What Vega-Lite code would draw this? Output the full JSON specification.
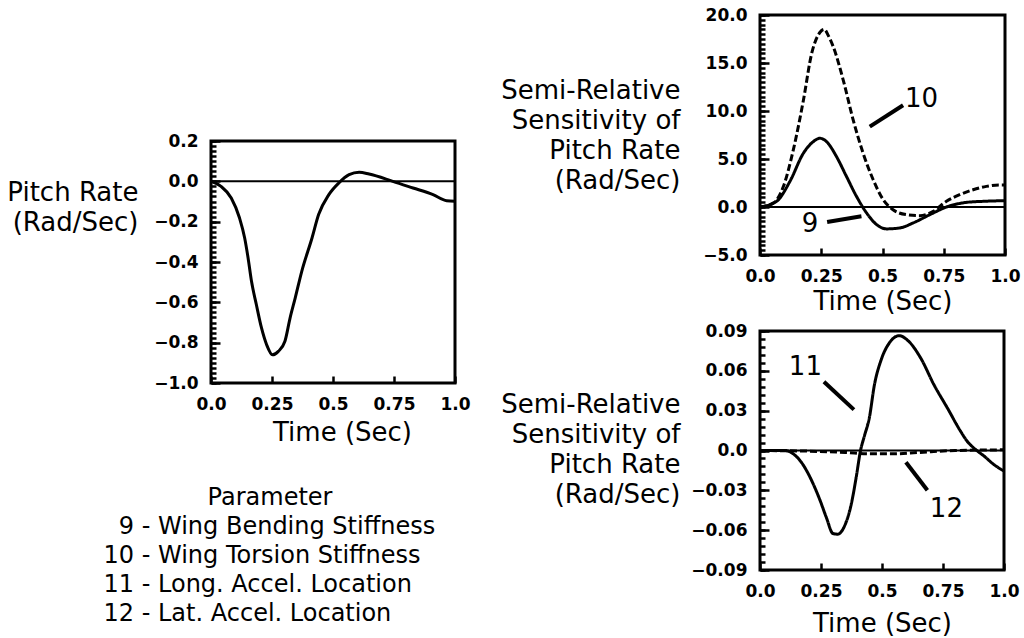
{
  "$schema": "https://vega.github.io/schema/vega-lite/v6.json",
  "background": "white",
  "padding": {"left": 5, "top": 4, "right": 0, "bottom": 0},
  "datasets": {
    "pitch": [
      {"t": 0, "q": 0}, {"t": 0.041, "q": -0.025}, {"t": 0.083, "q": -0.083}, {"t": 0.117, "q": -0.182},
      {"t": 0.138, "q": -0.281}, {"t": 0.152, "q": -0.38}, {"t": 0.166, "q": -0.496}, {"t": 0.186, "q": -0.612},
      {"t": 0.207, "q": -0.727}, {"t": 0.228, "q": -0.81}, {"t": 0.252, "q": -0.86}, {"t": 0.276, "q": -0.843},
      {"t": 0.303, "q": -0.793}, {"t": 0.324, "q": -0.678}, {"t": 0.345, "q": -0.579}, {"t": 0.372, "q": -0.446},
      {"t": 0.414, "q": -0.281}, {"t": 0.441, "q": -0.165}, {"t": 0.483, "q": -0.066}, {"t": 0.524, "q": -0.008},
      {"t": 0.566, "q": 0.033}, {"t": 0.607, "q": 0.045}, {"t": 0.648, "q": 0.036}, {"t": 0.745, "q": 0},
      {"t": 0.828, "q": -0.033}, {"t": 0.91, "q": -0.066}, {"t": 0.966, "q": -0.096}, {"t": 1.0, "q": -0.099}
    ],
    "sensA": [
      {"series": "10", "t": 0, "v": 0}, {"series": "10", "t": 0.054, "v": 0.4}, {"series": "10", "t": 0.095, "v": 2.1},
      {"series": "10", "t": 0.136, "v": 5.95}, {"series": "10", "t": 0.177, "v": 11.1}, {"series": "10", "t": 0.211, "v": 16},
      {"series": "10", "t": 0.245, "v": 18.2}, {"series": "10", "t": 0.262, "v": 18.5}, {"series": "10", "t": 0.28, "v": 17.8},
      {"series": "10", "t": 0.299, "v": 16.7}, {"series": "10", "t": 0.34, "v": 13.2}, {"series": "10", "t": 0.38, "v": 9.1},
      {"series": "10", "t": 0.421, "v": 5.6}, {"series": "10", "t": 0.462, "v": 2.84}, {"series": "10", "t": 0.503, "v": 0.76},
      {"series": "10", "t": 0.543, "v": -0.28}, {"series": "10", "t": 0.598, "v": -0.8}, {"series": "10", "t": 0.652, "v": -0.9},
      {"series": "10", "t": 0.707, "v": -0.45}, {"series": "10", "t": 0.761, "v": 0.59}, {"series": "10", "t": 0.815, "v": 1.28},
      {"series": "10", "t": 0.87, "v": 1.8}, {"series": "10", "t": 0.924, "v": 2.15}, {"series": "10", "t": 0.978, "v": 2.3},
      {"series": "10", "t": 1.0, "v": 2.3},
      {"series": "9", "t": 0, "v": 0}, {"series": "9", "t": 0.068, "v": 0.6}, {"series": "9", "t": 0.122, "v": 2.66},
      {"series": "9", "t": 0.177, "v": 5.6}, {"series": "9", "t": 0.217, "v": 6.8}, {"series": "9", "t": 0.245, "v": 7.16},
      {"series": "9", "t": 0.272, "v": 6.8}, {"series": "9", "t": 0.312, "v": 5.26}, {"series": "9", "t": 0.353, "v": 3.18},
      {"series": "9", "t": 0.394, "v": 1.1}, {"series": "9", "t": 0.435, "v": -0.62}, {"series": "9", "t": 0.476, "v": -1.83},
      {"series": "9", "t": 0.516, "v": -2.28}, {"series": "9", "t": 0.571, "v": -2.18}, {"series": "9", "t": 0.625, "v": -1.66},
      {"series": "9", "t": 0.693, "v": -0.8}, {"series": "9", "t": 0.761, "v": 0}, {"series": "9", "t": 0.842, "v": 0.48},
      {"series": "9", "t": 0.91, "v": 0.59}, {"series": "9", "t": 1.0, "v": 0.66}
    ],
    "sensB": [
      {"series": "11", "t": 0, "v": 0}, {"series": "11", "t": 0.102, "v": 0}, {"series": "11", "t": 0.136, "v": -0.0025},
      {"series": "11", "t": 0.17, "v": -0.009}, {"series": "11", "t": 0.21, "v": -0.022}, {"series": "11", "t": 0.245, "v": -0.037},
      {"series": "11", "t": 0.272, "v": -0.0505}, {"series": "11", "t": 0.299, "v": -0.0625}, {"series": "11", "t": 0.319, "v": -0.063},
      {"series": "11", "t": 0.346, "v": -0.057}, {"series": "11", "t": 0.374, "v": -0.0405}, {"series": "11", "t": 0.394, "v": -0.0205},
      {"series": "11", "t": 0.412, "v": 0}, {"series": "11", "t": 0.428, "v": 0.011}, {"series": "11", "t": 0.448, "v": 0.0245},
      {"series": "11", "t": 0.469, "v": 0.0495}, {"series": "11", "t": 0.496, "v": 0.068}, {"series": "11", "t": 0.53, "v": 0.081},
      {"series": "11", "t": 0.571, "v": 0.0865}, {"series": "11", "t": 0.605, "v": 0.083}, {"series": "11", "t": 0.659, "v": 0.0695},
      {"series": "11", "t": 0.713, "v": 0.0495}, {"series": "11", "t": 0.768, "v": 0.032}, {"series": "11", "t": 0.822, "v": 0.0145},
      {"series": "11", "t": 0.849, "v": 0.007}, {"series": "11", "t": 0.883, "v": 0.0008}, {"series": "11", "t": 0.917, "v": -0.004},
      {"series": "11", "t": 0.958, "v": -0.0105}, {"series": "11", "t": 1.0, "v": -0.0155},
      {"series": "12", "t": 0, "v": 0}, {"series": "12", "t": 0.2, "v": -0.0005}, {"series": "12", "t": 0.35, "v": -0.0015},
      {"series": "12", "t": 0.45, "v": -0.0025}, {"series": "12", "t": 0.55, "v": -0.0025}, {"series": "12", "t": 0.65, "v": -0.0015},
      {"series": "12", "t": 0.8, "v": 0}, {"series": "12", "t": 1.0, "v": 0.0005}
    ],
    "labelsA": [
      {"label": "10", "t": 0.659, "v": 11.25},
      {"label": "9", "t": 0.204, "v": -1.73}
    ],
    "leadersA": [
      {"t": 0.448, "v": 8.37, "t2": 0.584, "v2": 10.6},
      {"t": 0.274, "v": -1.56, "t2": 0.414, "v2": -0.97}
    ],
    "labelsB": [
      {"label": "11", "t": 0.186, "v": 0.063},
      {"label": "12", "t": 0.764, "v": -0.044}
    ],
    "leadersB": [
      {"t": 0.262, "v": 0.0518, "t2": 0.385, "v2": 0.0308},
      {"t": 0.598, "v": -0.0088, "t2": 0.686, "v2": -0.03}
    ],
    "paramHead": [
      {"line": 0, "label": "Parameter"}
    ],
    "paramItems": [
      {"line": 1, "num": "9", "desc": "- Wing Bending Stiffness"},
      {"line": 2, "num": "10", "desc": "- Wing Torsion Stiffness"},
      {"line": 3, "num": "11", "desc": "- Long. Accel. Location"},
      {"line": 4, "num": "12", "desc": "- Lat. Accel. Location"}
    ],
    "zero": [{"z": 0}]
  },
  "bounds": "flush",
  "spacing": 549,
  "hconcat": [
    {
      "bounds": "flush",
      "spacing": 115,
      "vconcat": [
        {"width": 244, "height": 11, "data": {"values": []}, "mark": "text"},
        {
          "width": 244, "height": 242,
          "view": {"stroke": "black", "strokeWidth": 3},
          "resolve": {"axis": {"y": "independent"}},
          "layer": [
            {
              "data": {"name": "pitch"},
              "mark": {"type": "line", "color": "black", "strokeWidth": 3, "interpolate": "monotone"},
              "encoding": {
                "x": {"field": "t", "type": "quantitative", "scale": {"domain": [0, 1], "nice": false},
                      "axis": {"values": [0, 0.25, 0.5, 0.75, 1], "labelExpr": "datum.value == 0 ? '0.0' : datum.value == 1 ? '1.0' : format(datum.value, '.2~f')", "title": "Time (Sec)", "titleX": 131}},
                "y": {"field": "q", "type": "quantitative", "scale": {"domain": [-1, 0.2], "nice": false, "zero": false},
                      "axis": {"orient": "left", "values": [-1, -0.8, -0.6, -0.4, -0.2, 0, 0.2], "format": ".1f", "title": ["Pitch Rate", "(Rad/Sec)"], "titleX": -73, "titleY": 38}}
              }
            },
            {
              "data": {"name": "zero"},
              "mark": {"type": "rule", "color": "black", "strokeWidth": 2},
              "encoding": {
                "y": {"field": "z", "type": "quantitative", "scale": {"domain": [-1, 0.2], "nice": false, "zero": false},
                      "axis": {"orient": "left", "values": [-1, -0.975, -0.95, -0.925, -0.9, -0.875, -0.85, -0.825, -0.8, -0.775, -0.75, -0.725, -0.7, -0.675, -0.65, -0.625, -0.6, -0.575, -0.55, -0.525, -0.5, -0.475, -0.45, -0.425, -0.4, -0.375, -0.35, -0.325, -0.3, -0.275, -0.25, -0.225, -0.2, -0.175, -0.15, -0.125, -0.1, -0.075, -0.05, -0.025, 0, 0.025, 0.05, 0.075, 0.1, 0.125, 0.15, 0.175, 0.2], "labels": false, "tickSize": -5, "title": null}}
              }
            }
          ]
        },
        {
          "width": 244, "height": 116,
          "layer": [
            {
              "data": {"name": "paramHead"},
              "mark": {"type": "text", "align": "center", "baseline": "middle", "fontSize": 24, "font": "DejaVu Sans", "color": "black"},
              "encoding": {
                "x": {"datum": 0.242, "type": "quantitative", "scale": {"domain": [0, 1]}, "axis": null},
                "y": {"field": "line", "type": "quantitative", "scale": {"domain": [0, 4], "reverse": true}, "axis": null},
                "text": {"field": "label"}
              }
            },
            {
              "data": {"name": "paramItems"},
              "mark": {"type": "text", "align": "right", "baseline": "middle", "fontSize": 24, "font": "DejaVu Sans", "color": "black"},
              "encoding": {
                "x": {"datum": -0.3156, "type": "quantitative", "scale": {"domain": [0, 1]}, "axis": null},
                "y": {"field": "line", "type": "quantitative", "scale": {"domain": [0, 4], "reverse": true}, "axis": null},
                "text": {"field": "num"}
              }
            },
            {
              "data": {"name": "paramItems"},
              "mark": {"type": "text", "align": "left", "baseline": "middle", "fontSize": 24, "font": "DejaVu Sans", "color": "black"},
              "encoding": {
                "x": {"datum": -0.284, "type": "quantitative", "scale": {"domain": [0, 1]}, "axis": null},
                "y": {"field": "line", "type": "quantitative", "scale": {"domain": [0, 4], "reverse": true}, "axis": null},
                "text": {"field": "desc"}
              }
            }
          ]
        }
      ]
    },
    {
      "bounds": "flush",
      "spacing": 76,
      "vconcat": [
        {
          "width": 245, "height": 240,
          "view": {"stroke": "black", "strokeWidth": 3},
          "resolve": {"axis": {"y": "independent"}},
          "layer": [
            {
              "data": {"name": "sensA"},
              "mark": {"type": "line", "color": "black", "strokeWidth": 3, "interpolate": "monotone"},
              "encoding": {
                "x": {"field": "t", "type": "quantitative", "scale": {"domain": [0, 1], "nice": false},
                      "axis": {"values": [0, 0.25, 0.5, 0.75, 1], "labelExpr": "datum.value == 0 ? '0.0' : datum.value == 1 ? '1.0' : format(datum.value, '.2~f')", "title": "Time (Sec)", "titleY": 33}},
                "y": {"field": "v", "type": "quantitative", "scale": {"domain": [-5, 20], "nice": false, "zero": false},
                      "axis": {"orient": "left", "values": [-5, 0, 5, 10, 15, 20], "format": ".1f", "title": ["Semi-Relative", "Sensitivity of", "Pitch Rate", "(Rad/Sec)"], "titleX": -80, "titleY": 62}},
                "detail": {"field": "series"},
                "strokeDash": {"field": "series", "type": "nominal", "scale": {"domain": ["9", "10"], "range": [[1, 0], [7, 3]]}, "legend": null}
              }
            },
            {
              "data": {"name": "zero"},
              "mark": {"type": "rule", "color": "black", "strokeWidth": 2},
              "encoding": {
                "y": {"field": "z", "type": "quantitative", "scale": {"domain": [-5, 20], "nice": false, "zero": false},
                      "axis": {"orient": "left", "values": [-5, -4.5, -4, -3.5, -3, -2.5, -2, -1.5, -1, -0.5, 0, 0.5, 1, 1.5, 2, 2.5, 3, 3.5, 4, 4.5, 5, 5.5, 6, 6.5, 7, 7.5, 8, 8.5, 9, 9.5, 10, 10.5, 11, 11.5, 12, 12.5, 13, 13.5, 14, 14.5, 15, 15.5, 16, 16.5, 17, 17.5, 18, 18.5, 19, 19.5, 20], "labels": false, "tickSize": -5, "title": null}}
              }
            },
            {
              "data": {"name": "leadersA"},
              "mark": {"type": "rule", "color": "black", "strokeWidth": 4},
              "encoding": {
                "x": {"field": "t", "type": "quantitative"}, "y": {"field": "v", "type": "quantitative", "axis": null},
                "x2": {"field": "t2"}, "y2": {"field": "v2"}
              }
            },
            {
              "data": {"name": "labelsA"},
              "mark": {"type": "text", "fontSize": 26, "font": "DejaVu Sans", "color": "black", "align": "center", "baseline": "middle"},
              "encoding": {
                "x": {"field": "t", "type": "quantitative"}, "y": {"field": "v", "type": "quantitative", "axis": null},
                "text": {"field": "label"}
              }
            }
          ]
        },
        {
          "width": 244, "height": 239,
          "view": {"stroke": "black", "strokeWidth": 3},
          "resolve": {"axis": {"y": "independent"}},
          "layer": [
            {
              "data": {"name": "sensB"},
              "mark": {"type": "line", "color": "black", "strokeWidth": 3, "interpolate": "monotone"},
              "encoding": {
                "x": {"field": "t", "type": "quantitative", "scale": {"domain": [0, 1], "nice": false},
                      "axis": {"values": [0, 0.25, 0.5, 0.75, 1], "labelExpr": "datum.value == 0 ? '0.0' : datum.value == 1 ? '1.0' : format(datum.value, '.2~f')", "title": "Time (Sec)", "titleY": 40}},
                "y": {"field": "v", "type": "quantitative", "scale": {"domain": [-0.09, 0.09], "nice": false, "zero": false},
                      "axis": {"orient": "left", "values": [-0.09, -0.06, -0.03, 0, 0.03, 0.06, 0.09], "labelExpr": "abs(datum.value) < 1e-9 ? '0.0' : format(datum.value, '.2f')", "title": ["Semi-Relative", "Sensitivity of", "Pitch Rate", "(Rad/Sec)"], "titleX": -80, "titleY": 60}},
                "detail": {"field": "series"},
                "strokeDash": {"field": "series", "type": "nominal", "scale": {"domain": ["11", "12"], "range": [[1, 0], [1.5, 1.5]]}, "legend": null}
              }
            },
            {
              "data": {"name": "zero"},
              "mark": {"type": "rule", "color": "black", "strokeWidth": 2},
              "encoding": {
                "y": {"field": "z", "type": "quantitative", "scale": {"domain": [-0.09, 0.09], "nice": false, "zero": false},
                      "axis": {"orient": "left", "values": [-0.09, -0.084, -0.078, -0.072, -0.066, -0.06, -0.054, -0.048, -0.042, -0.036, -0.03, -0.024, -0.018, -0.012, -0.006, 0, 0.006, 0.012, 0.018, 0.024, 0.03, 0.036, 0.042, 0.048, 0.054, 0.06, 0.066, 0.072, 0.078, 0.084, 0.09], "labels": false, "tickSize": -5, "title": null}}
              }
            },
            {
              "data": {"name": "leadersB"},
              "mark": {"type": "rule", "color": "black", "strokeWidth": 4},
              "encoding": {
                "x": {"field": "t", "type": "quantitative"}, "y": {"field": "v", "type": "quantitative", "axis": null},
                "x2": {"field": "t2"}, "y2": {"field": "v2"}
              }
            },
            {
              "data": {"name": "labelsB"},
              "mark": {"type": "text", "fontSize": 26, "font": "DejaVu Sans", "color": "black", "align": "center", "baseline": "middle"},
              "encoding": {
                "x": {"field": "t", "type": "quantitative"}, "y": {"field": "v", "type": "quantitative", "axis": null},
                "text": {"field": "label"}
              }
            }
          ]
        }
      ]
    }
  ],
  "config": {
    "view": {"stroke": null},
    "font": "DejaVu Sans",
    "axis": {
      "domain": false, "grid": false,
      "labelFont": "DejaVu Sans", "labelFontSize": 17, "labelFontWeight": "bold", "labelColor": "black",
      "labelFlush": false, "labelOverlap": false, "labelBound": false,
      "tickColor": "black", "tickWidth": 2.5,
      "titleFont": "DejaVu Sans", "titleFontSize": 26, "titleFontWeight": "normal", "titleColor": "black"
    },
    "axisX": {"tickSize": -7, "labelPadding": 20, "titleY": 36, "titleBaseline": "top"},
    "axisY": {"tickSize": -9, "labelPadding": 22, "titleAngle": 0, "titleAlign": "right", "titleBaseline": "top", "titleLineHeight": 30}
  }
}
